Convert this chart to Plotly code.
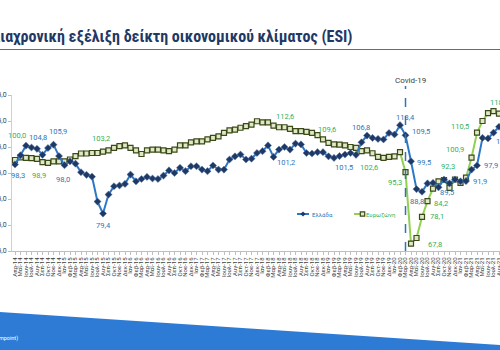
import plotly.graph_objects as go

# ---------------- data ----------------
months_gr = ["Ιαν", "Φεβ", "Μαρ", "Απρ", "Μαΐ", "Ιουν", "Ιουλ", "Αυγ", "Σεπ", "Οκτ", "Νοε", "Δεκ"]
start_month, start_year, n_months = 3, 14, 90
categories = []
_m, _y = start_month, start_year
for _ in range(n_months):
    categories.append(f"{months_gr[_m]}-{_y}")
    _m += 1
    if _m == 12:
        _m, _y = 0, _y + 1

greece = [
    98.3, 101.8, 105.5, 104.8, 104.3, 102.0, 104.6, 105.9, 101.5, 98.0,
    99.5, 98.6, 95.3, 94.3, 93.6, 84.0, 79.4, 86.7, 89.9, 90.2,
    90.8, 94.4, 91.8, 92.7, 93.5, 92.9, 92.7, 94.0, 96.0, 95.0,
    97.0, 95.7, 97.6, 97.6, 96.3, 95.7, 97.9, 96.3, 96.3, 100.2,
    101.4, 102.1, 100.2, 100.5, 102.7, 103.4, 105.6, 101.2, 104.0, 105.0,
    104.0, 106.3, 106.0, 102.7, 102.5, 103.0, 103.0, 101.4, 100.8, 101.5,
    102.1, 102.7, 102.0, 106.8, 109.4, 108.5, 108.1, 107.9, 110.4, 109.8,
    113.4, 109.5, 99.5, 88.8, 87.8, 91.0, 91.2, 89.5, 92.5, 91.0,
    92.5, 91.8, 91.9, 96.3, 97.9, 108.5, 108.3, 110.5, 112.8, 114.0,
]
eurozone = [
    100.0, 101.0, 100.8, 100.7, 100.4, 99.2, 98.9, 99.5, 99.5, 99.5,
    100.2, 101.5, 102.5, 102.5, 102.7, 102.7, 103.2, 103.7, 104.7, 105.3,
    105.6, 104.7, 103.7, 102.3, 103.7, 104.0, 104.0, 103.7, 103.4, 104.0,
    105.6, 105.6, 106.8, 107.2, 107.2, 107.9, 108.5, 109.1, 110.4, 111.4,
    111.7, 112.4, 113.0, 113.6, 114.9, 114.5, 114.5, 113.2, 112.6, 112.6,
    112.0, 111.1, 111.1, 110.8, 110.4, 109.6, 107.9, 106.6, 106.0, 105.9,
    105.6, 105.0, 104.7, 103.4, 103.7, 102.6, 101.2, 100.8, 101.2, 101.4,
    103.0, 95.3, 67.8, 70.0, 78.1, 84.2, 89.0, 91.8, 92.3, 89.3,
    92.5, 91.2, 93.2, 100.9, 110.5, 115.0, 118.0, 118.8, 117.8, 119.0,
]
y_ticks = [65, 75, 85, 95, 105, 115, 125]
y_tick_labels = ["65,0", "75,0", "85,0", "95,0", "105,0", "115,0", "125,0"]
series_names = ["Ελλάδα", "Ευρωζώνη"]
covid_index = 71
covid_text = "Covid-19"
title_text = "Διαχρονική εξέλιξη δείκτη οικονομικού κλίματος (ESI)"
footer_text = "(Πηγή: Eurostat, Impoint)"

# labelled points (index) and label offsets in px (dx, dy-up)
greece_label_idx = [0, 3, 7, 9, 16, 47, 59, 63, 70, 71, 72, 73, 77, 82, 84, 85]
greece_label_off = [(3, -11), (6, 10), (4, 13), (-2, -14), (0, -12), (12, -6), (4, -11), (-1, 15),
                    (5, 8), (15, 4), (13, -1), (0, -12), (8, -5), (14, 0), (14, 0), (22, -4)]
euro_label_idx = [0, 6, 16, 48, 55, 65, 71, 72, 74, 75, 78, 83, 84, 87]
euro_label_off = [(2, 25), (-9, -13), (-2, 13), (6, 11), (9, 6), (-4, -14), (-11, -10), (24, -1),
                  (15, 0), (13, -2), (4, 14), (-17, 8), (-17, 6), (5, 9)]

# ---------------- geometry helpers (pixel -> paper) ----------------
L, R, T, B = 12, 500, 95, 251
W, H = R - L, B - T
def px(x):
    return (x - L) / W
def py(y):
    return (B - y) / H

BLUE = "#2b78c8"
BLUE_TXT = "#2e75b6"
NAVY = "#1f3864"
GREEN = "#92d050"
GREEN_TXT = "#2fb15a"
LABEL_FONT = "Roboto, Liberation Sans, sans-serif"

fig = go.Figure()
fig.add_trace(go.Scatter(
    x=categories, y=eurozone, mode="lines+markers", name=series_names[1],
    line=dict(color=GREEN, width=2),
    marker=dict(symbol="square", size=5, color="#dfe9c6", line=dict(color="#3b4a18", width=1.2)),
))
fig.add_trace(go.Scatter(
    x=categories, y=greece, mode="lines+markers", name=series_names[0],
    line=dict(color=BLUE, width=2),
    marker=dict(symbol="diamond", size=5.5, color=NAVY, line=dict(color="#5b7fb0", width=0.5)),
))

ann = []
def fmt(v):
    return f"{v:.1f}".replace(".", ",")

for i, (dx, dy) in zip(greece_label_idx, greece_label_off):
    ann.append(dict(x=categories[i], y=greece[i], xref="x", yref="y", text=fmt(greece[i]),
                    showarrow=False, xshift=dx, yshift=dy,
                    font=dict(size=7.5, color=BLUE_TXT, family=LABEL_FONT)))
for i, (dx, dy) in zip(euro_label_idx, euro_label_off):
    ann.append(dict(x=categories[i], y=eurozone[i], xref="x", yref="y", text=fmt(eurozone[i]),
                    showarrow=False, xshift=dx, yshift=dy,
                    font=dict(size=7.5, color=GREEN_TXT, family=LABEL_FONT)))

# Covid label
ann.append(dict(x=categories[covid_index], y=py(74), xref="x", yref="paper", text=covid_text,
                showarrow=False, xshift=5, font=dict(size=8, color="#404040", family=LABEL_FONT)))
# title
ann.append(dict(x=px(-12), y=py(36), xref="paper", yref="paper", text=f"<b>{title_text}</b>",
                xanchor="left", yanchor="middle", showarrow=False,
                font=dict(size=16, color=NAVY, family="Liberation Sans Narrow, Roboto Condensed, Roboto, sans-serif")))
# legend texts
ann.append(dict(x=px(310), y=py(214), xref="paper", yref="paper", text=series_names[0], xanchor="left",
                yanchor="middle", showarrow=False, font=dict(size=6, color=BLUE_TXT, family=LABEL_FONT)))
ann.append(dict(x=px(364), y=py(214), xref="paper", yref="paper", text=series_names[1], xanchor="left",
                yanchor="middle", showarrow=False, font=dict(size=6, color=GREEN_TXT, family=LABEL_FONT)))
# footer text
ann.append(dict(x=px(20), y=py(338), xref="paper", yref="paper", text=footer_text, xanchor="right",
                yanchor="middle", showarrow=False, font=dict(size=5.5, color="white", family=LABEL_FONT)))

shapes = []
# covid dashed line
shapes.append(dict(type="line", xref="x", yref="paper", x0=covid_index, x1=covid_index,
                   y0=0, y1=py(86), line=dict(color=BLUE_TXT, width=1.5, dash="dash")))
# title underline
shapes.append(dict(type="line", xref="paper", yref="paper", x0=px(0), x1=px(500), y0=py(49.5), y1=py(49.5),
                   line=dict(color="#2e75d6", width=1)))
# footer band
shapes.append(dict(type="path", xref="paper", yref="paper",
                   path=f"M {px(0)},{py(312)} L {px(500)},{py(345)} L {px(500)},{py(352)} L {px(0)},{py(352)} Z",
                   fillcolor="#2e7bd6", line=dict(width=0)))
# legend symbols
shapes.append(dict(type="line", xref="paper", yref="paper", x0=px(297), x1=px(309), y0=py(214), y1=py(214),
                   line=dict(color=BLUE, width=2)))
d = 2.6
shapes.append(dict(type="path", xref="paper", yref="paper",
                   path=f"M {px(303)},{py(214-d)} L {px(303+d)},{py(214)} L {px(303)},{py(214+d)} L {px(303-d)},{py(214)} Z",
                   fillcolor=NAVY, line=dict(width=0)))
shapes.append(dict(type="line", xref="paper", yref="paper", x0=px(354), x1=px(364), y0=py(214), y1=py(214),
                   line=dict(color=GREEN, width=2)))
s = 2.2
shapes.append(dict(type="rect", xref="paper", yref="paper", x0=px(362.5-s), x1=px(362.5+s),
                   y0=py(214+s), y1=py(214-s), fillcolor="#dfe9c6", line=dict(color="#3b4a18", width=1.2)))

fig.update_layout(
    width=500, height=350,
    margin=dict(l=L, r=0, t=T, b=350 - B, autoexpand=False),
    paper_bgcolor="white", plot_bgcolor="white",
    showlegend=False,
    annotations=ann, shapes=shapes,
    xaxis=dict(type="category", range=[-0.545, 88.18], tickmode="array", tickvals=categories,
               ticktext=categories, tickangle=-90,
               tickfont=dict(size=6, color="#404040", family=LABEL_FONT),
               showline=True, linecolor="#bfbfbf", linewidth=1, ticks="outside", ticklen=3,
               tickcolor="#bfbfbf", showgrid=False, zeroline=False, automargin=False),
    yaxis=dict(range=[65, 125], tickmode="array", tickvals=y_ticks, ticktext=y_tick_labels,
               tickfont=dict(size=7, color="#404040", family=LABEL_FONT),
               showline=True, linecolor="#d0d0d0", linewidth=1, ticks="outside", ticklen=3,
               tickcolor="#bfbfbf", showgrid=False, zeroline=False, automargin=False),
)

fig.write_html("out.html")
